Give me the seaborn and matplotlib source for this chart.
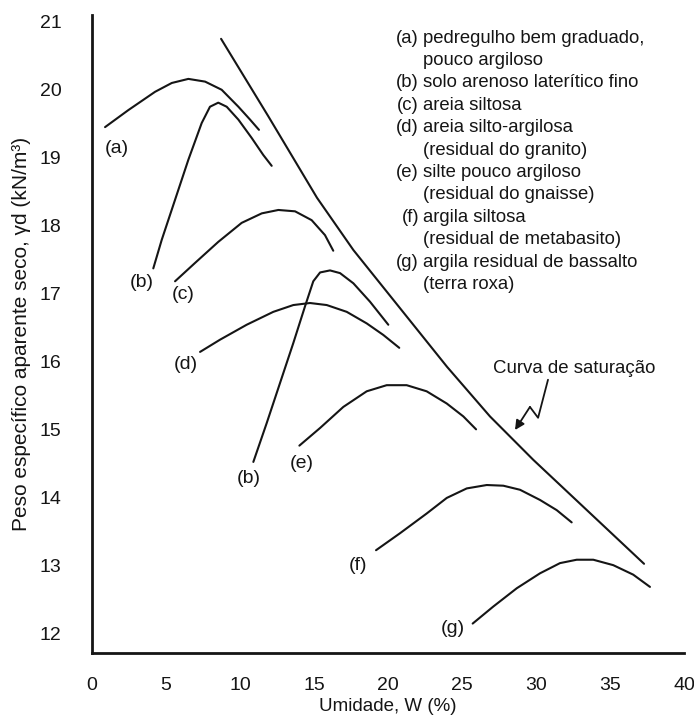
import matplotlib
matplotlib.use("Agg")
import matplotlib.pyplot as plt
import seaborn as sns
import pandas as pd

# ---- data ----
a_w = [0.88, 2.45, 4.26, 5.39, 6.51, 7.64, 8.76, 9.89, 10.68, 11.28]
a_g = [19.45, 19.70, 19.97, 20.10, 20.16, 20.12, 20.00, 19.75, 19.56, 19.41]

b1_w = [4.14, 4.71, 5.61, 6.51, 7.41, 7.97, 8.53, 9.10, 9.89, 10.79, 11.57, 12.14]
b1_g = [17.37, 17.79, 18.38, 18.97, 19.51, 19.75, 19.81, 19.75, 19.56, 19.29, 19.04, 18.88]

c_w = [5.61, 6.96, 8.53, 10.11, 11.47, 12.59, 13.72, 14.84, 15.74, 16.30]
c_g = [17.18, 17.45, 17.76, 18.04, 18.18, 18.23, 18.21, 18.08, 17.86, 17.63]

d_w = [7.30, 8.65, 10.45, 12.25, 13.60, 14.73, 15.86, 17.21, 18.56, 19.68, 20.76]
d_g = [16.14, 16.32, 16.54, 16.73, 16.83, 16.86, 16.83, 16.73, 16.56, 16.39, 16.20]

b2_w = [10.90, 11.80, 12.70, 13.60, 14.39, 14.95, 15.41, 16.08, 16.76, 17.66, 18.78, 20.02]
b2_g = [14.52, 15.09, 15.68, 16.27, 16.81, 17.18, 17.31, 17.34, 17.30, 17.15, 16.88, 16.54]

e_w = [14.01, 15.41, 16.98, 18.56, 19.91, 21.26, 22.61, 23.97, 25.09, 25.95]
e_g = [14.76, 15.02, 15.33, 15.56, 15.65, 15.65, 15.56, 15.38, 15.19, 15.00]

f_w = [19.19, 20.81, 22.61, 23.97, 25.32, 26.67, 27.79, 28.92, 30.27, 31.40, 32.41]
f_g = [13.22, 13.47, 13.76, 13.99, 14.13, 14.18, 14.17, 14.11, 13.96, 13.81, 13.63]

g_w = [25.72, 27.11, 28.70, 30.27, 31.62, 32.75, 33.87, 35.22, 36.57, 37.70]
g_g = [12.14, 12.39, 12.66, 12.88, 13.03, 13.08, 13.08, 13.00, 12.86, 12.68]

sat_w = [8.72, 11.91, 15.20, 17.66, 23.99, 26.89, 29.82, 37.30]
sat_g = [20.75, 19.61, 18.41, 17.64, 15.92, 15.19, 14.55, 13.02]

curve_labels = ["(a)", "(b)", "(c)", "(d)", "(b)", "(e)", "(f)", "(g)"]
label_w = [1.67, 3.36, 6.17, 6.35, 10.60, 14.17, 17.97, 24.41]
label_g = [19.13, 17.16, 16.98, 15.96, 14.28, 14.50, 12.99, 12.07]

legend_keys = ["(a)", "", "(b)", "(c)", "(d)", "", "(e)", "", "(f)", "", "(g)", ""]
legend_texts = ["pedregulho bem graduado,", "pouco argiloso",
                "solo arenoso laterítico fino", "areia siltosa",
                "areia silto-argilosa", "(residual do granito)",
                "silte pouco argiloso", "(residual do gnaisse)",
                "argila siltosa", "(residual de metabasito)",
                "argila residual de bassalto", "(terra roxa)"]

sat_label = "Curva de saturação"
zig_w = [30.81, 30.14, 29.59]
zig_g = [15.73, 15.17, 15.33]
arrow_tip = (28.58, 14.99)

xticks = [0, 5, 10, 15, 20, 25, 30, 35, 40]
yticks = [12, 13, 14, 15, 16, 17, 18, 19, 20, 21]

# ---- styling ----
sns.set_theme(style="white")
plt.rcParams["font.family"] = ["Liberation Sans", "DejaVu Sans"]
INK = "#151515"
LW = 1.5

fig = plt.figure(figsize=(6.94, 7.17), dpi=100)
ax = fig.add_axes([0.1326, 0.0893, 0.8530, 0.8897])

curves = [(a_w, a_g), (b1_w, b1_g), (c_w, c_g), (d_w, d_g), (b2_w, b2_g),
          (e_w, e_g), (f_w, f_g), (g_w, g_g), (sat_w, sat_g)]
for w, g in curves:
    df = pd.DataFrame({"w": w, "g": g})
    sns.lineplot(data=df, x="w", y="g", sort=False, estimator=None,
                 color=INK, linewidth=LW, ax=ax)

for lab, x, y in zip(curve_labels, label_w, label_g):
    ax.text(x, y, lab, ha="center", va="center", fontsize=14, color=INK)

# legend block
FS_LEG = 13.3
leg_y0 = 21.0 - (38.3 - 22) / 67.9
dy = 22.4 / 67.9
for i, (k, t) in enumerate(zip(legend_keys, legend_texts)):
    y = leg_y0 - i * dy
    if k:
        ax.text(22.10, y, k, ha="right", va="center", fontsize=FS_LEG, color=INK)
    ax.text(22.36, y, t, ha="left", va="center", fontsize=FS_LEG, color=INK)

# saturation label + zigzag arrow
ax.text(32.6, 15.90, sat_label, ha="center", va="center", fontsize=13.4, color=INK)
ax.plot(zig_w, zig_g, color=INK, linewidth=1.3)
ax.annotate("", xy=arrow_tip, xytext=(zig_w[-1], zig_g[-1]),
            arrowprops=dict(arrowstyle="-|>", color=INK, lw=1.3,
                            mutation_scale=14, shrinkA=0, shrinkB=0))

ax.set_xlim(0, 40)
ax.set_ylim(11.707, 21.10)
ax.set_xticks(xticks)
ax.set_yticks(yticks)
ax.tick_params(axis="both", length=0, labelsize=14, colors=INK)
ax.tick_params(axis="y", pad=22)
ax.tick_params(axis="x", pad=17)
ax.set_xlabel("Umidade, W (%)", fontsize=13.5, color=INK, labelpad=3)
ax.set_ylabel("Peso específico aparente seco, γd (kN/m³)", fontsize=15,
              color=INK, labelpad=6)
for s in ["top", "right"]:
    ax.spines[s].set_visible(False)
for s in ["left", "bottom"]:
    ax.spines[s].set_color(INK)
    ax.spines[s].set_linewidth(2.0)
ax.grid(False)

fig.savefig("out.png", dpi=100, facecolor="white")
